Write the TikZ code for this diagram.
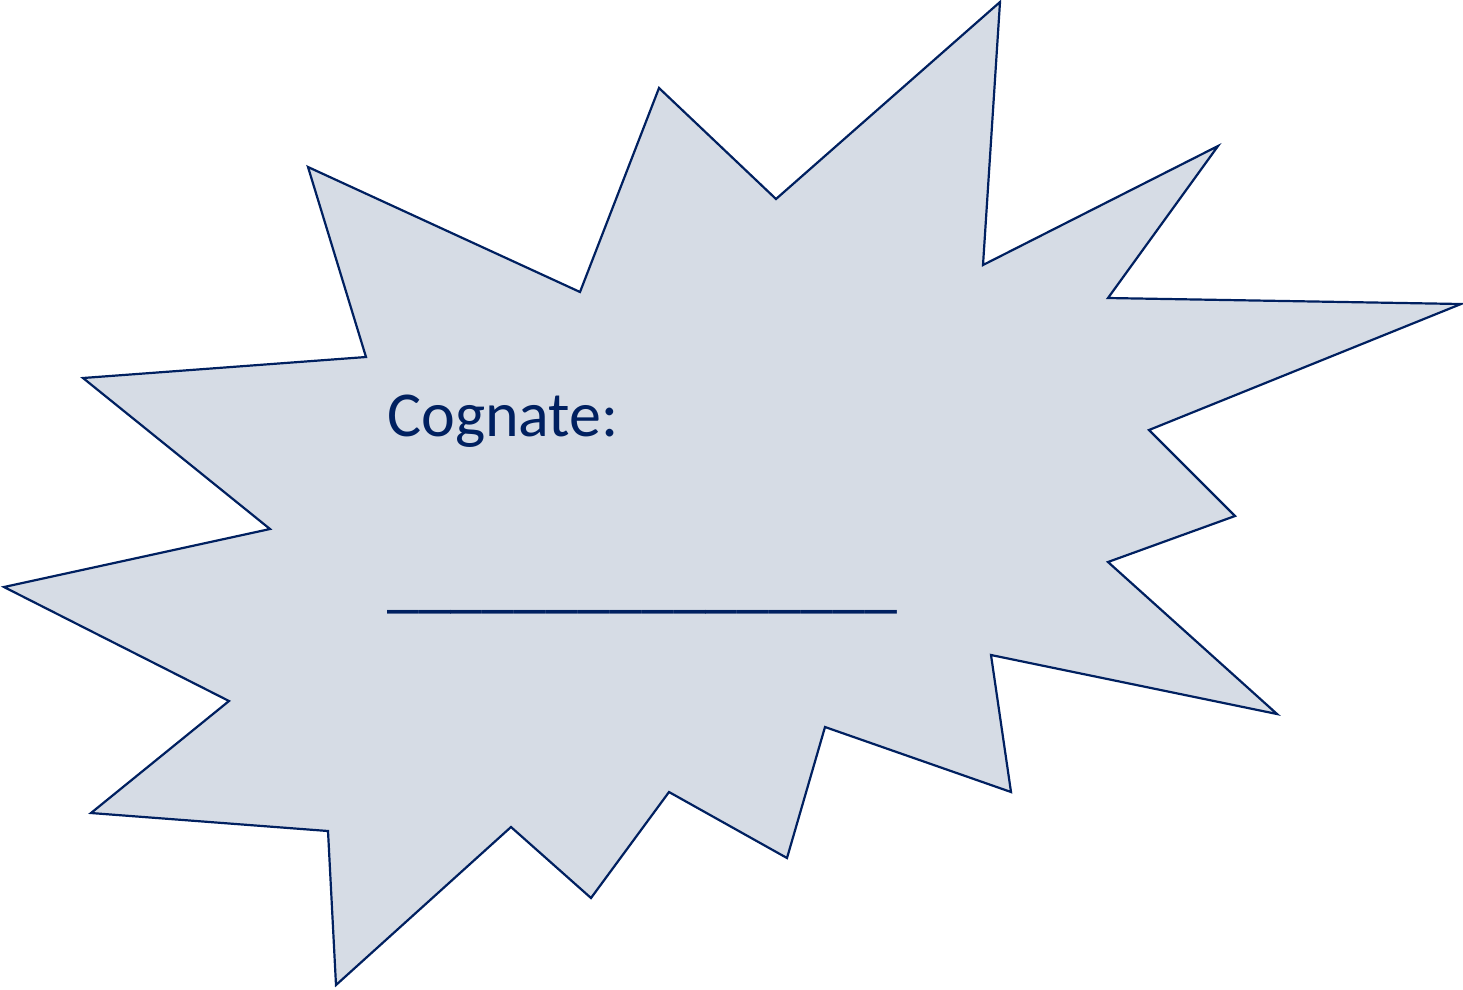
\documentclass[tikz,border=0pt]{standalone}
\usepackage{fontspec}
\setmainfont{Carlito}
\definecolor{navy}{HTML}{002060}
\definecolor{boomfill}{HTML}{D6DCE5}
\tikzset{
  boom/.style={draw=navy, fill=boomfill, line width=2.2pt, line join=miter},
  label/.style={anchor=base west, inner sep=0pt, text=navy, font=\fontsize{64}{76}\selectfont}
}
\begin{document}
\begin{tikzpicture}[x=1pt,y=-1pt]
\useasboundingbox (0,0) rectangle (1463,989);
\draw[boom] (308,167) -- (580,292) -- (659,88) -- (776,199) -- (1000,2) -- (983,265)
  -- (1218,146) -- (1108,298) -- (1461,304) -- (1149,430) -- (1235,516) -- (1108,562)
  -- (1277,714) -- (991,655) -- (1011,792) -- (825,727) -- (787,858) -- (669,792)
  -- (591,898) -- (511,827) -- (336,985) -- (328,831) -- (91,813) -- (229,701)
  -- (4,587) -- (270,529) -- (83,378) -- (366,357) -- cycle;
\node[label] (t1) at (387,436) {Cognate:};
\node[label] (t2) at (387,605) {\_\_\_\_\_\_\_\_\_\_\_\_\_\_\_\_};
\end{tikzpicture}
\end{document}
